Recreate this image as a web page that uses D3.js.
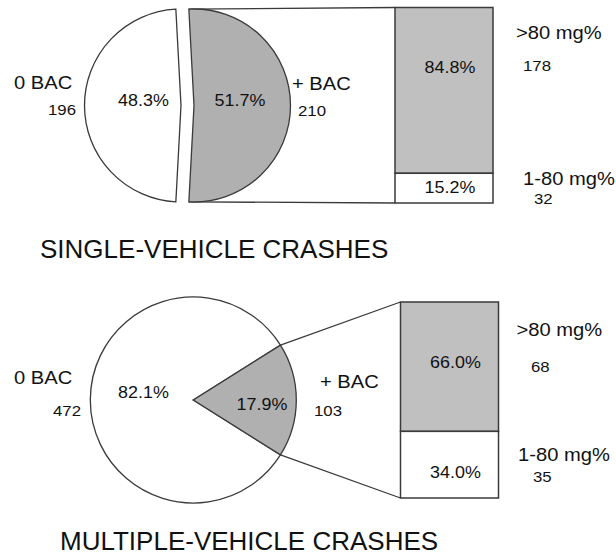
<!DOCTYPE html>
<html>
<head>
<meta charset="utf-8">
<script src="https://cdn.jsdelivr.net/npm/d3@7"></script>
<style>
  body { margin: 0; background: #fff; }
  text { font-family: "Liberation Sans", Arial, sans-serif; fill: #111; }
</style>
</head>
<body>
<script>
"use strict";

// chart data
const titles = ["SINGLE-VEHICLE CRASHES", "MULTIPLE-VEHICLE CRASHES"];
const pieNames = ["0 BAC", "+ BAC"];
const pieCounts = [[196, 210], [472, 103]];
const piePct = [[48.3, 51.7], [82.1, 17.9]];
const barNames = [">80 mg%", "1-80 mg%"];
const barCounts = [[178, 32], [68, 35]];
const barPct = [[84.8, 15.2], [66.0, 34.0]];

// layout for each panel (positions only)
const panels = [
    {cx: 187.5, cy: 105.5, r: 96.5, explode: 6.5, barX: 395, barW: 98, barTop: 7.5, barBottom: 203,
     title: [40, 258],
     pieLab: [[14, 89], [292, 90]], pieCnt: [[48, 115], [298, 116]], piePctPos: [[143.5, 106], [240, 106]],
     barLab: [[516, 39], [523, 185]], barCnt: [[523, 70.5], [534, 204]], barPctY: [73, 193]},
    {cx: 193.3, cy: 400, r: 103, explode: 0, barX: 400.5, barW: 98, barTop: 302, barBottom: 498,
     title: [60, 550],
     pieLab: [[14, 384], [320, 388]], pieCnt: [[53, 415.5], [314, 415.5]], piePctPos: [[143.5, 397.5], [262, 410]],
     barLab: [[516.5, 335.5], [518, 460.5]], barCnt: [[531, 372], [533, 481.5]], barPctY: [368, 478]}
];

const pieFill = ["#ffffff", "#b0b0b0"];
const barFill = ["#c0c0c0", "#ffffff"];
const stroke = "#3a3a3a";
const sx = 1.12; // labels in the picture are a bit wide

const svg = d3.select("body").append("svg")
    .attr("width", 616)
    .attr("height", 555);

function label(g, pos, txt, size, anchor) {
    g.append("text")
        .attr("transform", "translate(" + pos[0] + "," + pos[1] + ") scale(" + sx + ",1)")
        .attr("text-anchor", anchor || "start")
        .style("font-size", size + "px")
        .text(txt);
}

panels.forEach((p, i) => {
    const g = svg.append("g");
    const pct = piePct[i];
    const total = d3.sum(pct);
    const aw = pct[0] / total * 2 * Math.PI;
    const ag = pct[1] / total * 2 * Math.PI;
    // white slice to the left, grey slice centred at 3 o'clock
    const start = 2.5 * Math.PI - aw - ag / 2;
    const pie = d3.pie().sort(null).startAngle(start).endAngle(start + 2 * Math.PI);
    const arcs = pie(pct);
    const arc = d3.arc().innerRadius(0).outerRadius(p.r);

    // bar scale
    const y = d3.scaleLinear().domain([0, 100]).range([p.barTop, p.barBottom]);
    const stack = [0, barPct[i][0], 100];

    // connector lines from grey slice edge to bar corners
    const grey = arcs[1];
    const gOff = p.explode;
    const gMid = (grey.startAngle + grey.endAngle) / 2;
    const gx = p.cx + Math.sin(gMid) * gOff, gy = p.cy - Math.cos(gMid) * gOff;
    const ptA = [gx + Math.sin(grey.startAngle) * p.r, gy - Math.cos(grey.startAngle) * p.r];
    const ptB = [gx + Math.sin(grey.endAngle) * p.r, gy - Math.cos(grey.endAngle) * p.r];
    const topPt = ptA[1] < ptB[1] ? ptA : ptB;
    const botPt = ptA[1] < ptB[1] ? ptB : ptA;
    g.append("line")
        .attr("x1", topPt[0]).attr("y1", topPt[1])
        .attr("x2", p.barX).attr("y2", y(0))
        .attr("stroke", stroke).attr("stroke-width", 1.3);
    g.append("line")
        .attr("x1", botPt[0]).attr("y1", botPt[1])
        .attr("x2", p.barX).attr("y2", y(100))
        .attr("stroke", stroke).attr("stroke-width", 1.3);

    // pie slices
    g.selectAll(".slice").data(arcs)
        .enter()
        .append("path")
            .attr("class", "slice")
            .attr("transform", d => {
                const m = (d.startAngle + d.endAngle) / 2;
                return "translate(" + (p.cx + Math.sin(m) * p.explode) + "," + (p.cy - Math.cos(m) * p.explode) + ")";
            })
            .attr("d", arc)
            .attr("fill", (d, j) => pieFill[j])
            .attr("stroke", stroke)
            .attr("stroke-width", 1.3)
            .attr("stroke-linejoin", "miter");

    // bar of the + BAC group
    g.selectAll(".seg").data(barPct[i])
        .enter()
        .append("rect")
            .attr("class", "seg")
            .attr("x", p.barX)
            .attr("y", (d, j) => y(stack[j]))
            .attr("width", p.barW)
            .attr("height", (d, j) => y(stack[j] + d) - y(stack[j]))
            .attr("fill", (d, j) => barFill[j])
            .attr("stroke", stroke)
            .attr("stroke-width", 1.5);

    // labels
    pieNames.forEach((n, j) => {
        label(g, p.pieLab[j], n, 18);
        label(g, p.pieCnt[j], pieCounts[i][j], 15);
        label(g, p.piePctPos[j], pct[j].toFixed(1) + "%", 16, "middle");
    });
    barNames.forEach((n, j) => {
        label(g, p.barLab[j], n, 18);
        label(g, p.barCnt[j], barCounts[i][j], 15);
        label(g, [p.barX + p.barW / 2 + 6, p.barPctY[j]], barPct[i][j].toFixed(1) + "%", 16, "middle");
    });

    g.append("text")
        .attr("transform", "translate(" + p.title[0] + "," + p.title[1] + ") scale(1.02,1)")
        .style("font-size", "25.5px")
        .text(titles[i]);
});
</script>
</body>
</html>
